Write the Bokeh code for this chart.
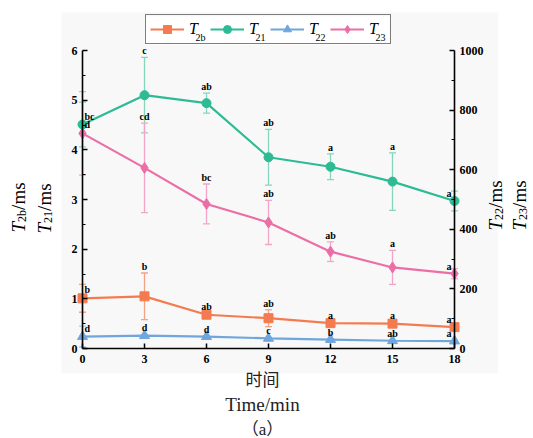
import math
from bokeh.plotting import figure
from bokeh.models import (Range1d, LinearAxis, FixedTicker, Whisker, TeeHead,
                          ColumnDataSource, Legend, LegendItem, Label, BoxAnnotation)
from bokeh.core.properties import value
from bokeh.embed import file_html
from bokeh.resources import INLINE

# ---- data -------------------------------------------------------------
time_min = [0, 3, 6, 9, 12, 15, 18]

t2b = [1.01, 1.05, 0.68, 0.61, 0.51, 0.50, 0.43]          # ms, left axis
t2b_err = [0.28, 0.47, 0.03, 0.17, 0.03, 0.03, 0.03]
t2b_sig = ["b", "b", "ab", "ab", "a", "a", "a"]

t21 = [4.51, 5.10, 4.94, 3.85, 3.66, 3.36, 2.97]          # ms, left axis
t21_err = [0.45, 0.76, 0.20, 0.56, 0.26, 0.58, 0.20]
t21_sig = ["bc", "c", "ab", "ab", "a", "a", "a"]

t22 = [40, 43, 40, 34, 30, 26, 25]                        # ms, right axis
t22_err = [35, 4, 3, 4, 3, 3, 2]
t22_sig = ["d", "d", "d", "c", "b", "ab", "a"]

t23 = [722, 606, 485, 423, 325, 272, 251]                 # ms, right axis
t23_err = [140, 150, 67, 74, 33, 57, 17]
t23_sig = ["d", "cd", "bc", "ab", "ab", "a", "a"]

left_ticks = [0, 1, 2, 3, 4, 5, 6]
right_ticks = [0, 200, 400, 600, 800, 1000]

# ---- geometry ---------------------------------------------------------
# The frame fills the whole canvas; the axes are pinned at fixed data
# positions so every text can live inside the frame.
W, H = 533, 438
X_MAX, L_MAX, R_MAX = 18, 6, 1000
X0_PX, X1_PX = 82, 454         # canvas columns of x = 0 and x = 18
Y0_PX, YT_PX = 348, 50         # canvas rows of the axis bottom and top
PANEL = "#f8f8f8"
SERIF = "Liberation Serif"

ppx = (X1_PX - X0_PX) / X_MAX
ppl = (Y0_PX - YT_PX) / L_MAX
ppr = (Y0_PX - YT_PX) / R_MAX


def sy(py):
    """canvas row -> screen y measured from the bottom"""
    return H - py


p = figure(width=W, height=H, output_backend="svg", toolbar_location=None,
           title=None, x_axis_location=None, y_axis_location=None,
           x_range=Range1d(-X0_PX / ppx, X_MAX + (W - X1_PX) / ppx),
           y_range=Range1d(-(H - Y0_PX) / ppl, L_MAX + YT_PX / ppl),
           min_border=0, min_border_left=0, min_border_right=0,
           min_border_top=0, min_border_bottom=0,
           background_fill_color="white", border_fill_color="white",
           outline_line_color=None)
p.extra_y_ranges = {"right": Range1d(-(H - Y0_PX) / ppr, R_MAX + YT_PX / ppr)}
p.grid.visible = False

# light panel behind the chart
p.add_layout(BoxAnnotation(left=61, right=497.7, top=sy(11.7), bottom=sy(372.7),
                           left_units="screen", right_units="screen",
                           top_units="screen", bottom_units="screen",
                           fill_color=PANEL, fill_alpha=1, line_color=None,
                           level="underlay"))


def style_axis(ax):
    ax.axis_line_color = "black"
    ax.axis_line_width = 1.6
    ax.major_tick_line_color = "black"
    ax.major_tick_line_width = 1.5
    ax.minor_tick_line_color = "black"
    ax.minor_tick_line_width = 1.2
    ax.major_tick_in = 5
    ax.major_tick_out = 0
    ax.minor_tick_in = 3
    ax.minor_tick_out = 0
    ax.major_label_text_font = SERIF
    ax.major_label_text_font_style = "bold"
    ax.major_label_text_font_size = "12px"
    ax.major_label_text_color = "black"
    ax.major_label_standoff = 5
    return ax


xa = style_axis(LinearAxis(fixed_location=0, bounds=(0, X_MAX),
                           ticker=FixedTicker(ticks=time_min, minor_ticks=[])))
xa.major_label_standoff = 6
p.add_layout(xa, "below")

ya = style_axis(LinearAxis(fixed_location=0, bounds=(0, L_MAX),
                           ticker=FixedTicker(ticks=left_ticks,
                                              minor_ticks=[t + 0.5 for t in left_ticks[:-1]])))
p.add_layout(ya, "left")

ra = style_axis(LinearAxis(fixed_location=X_MAX, y_range_name="right", bounds=(0, R_MAX),
                           ticker=FixedTicker(ticks=right_ticks,
                                              minor_ticks=[t + 100 for t in right_ticks[:-1]])))
p.add_layout(ra, "right")

# ---- legend box (white fill sits under the series) -----------------------
LEG_X, LEG_Y, LEG_PAD, GLYPH_W, STANDOFF, LABEL_W, SPACING = 145, 16, 4, 34, 5, 17, 4
LEG_H = 28
p.add_layout(BoxAnnotation(left=LEG_X, right=LEG_X + 244, top=sy(LEG_Y), bottom=sy(LEG_Y + LEG_H),
                           left_units="screen", right_units="screen",
                           top_units="screen", bottom_units="screen",
                           fill_color="white", fill_alpha=1, line_color=None,
                           level="underlay"))

series = [
    ("2b", t2b, t2b_err, t2b_sig, "#f47b50", "#f4a282", "square", 9, "default"),
    ("21", t21, t21_err, t21_sig, "#2cbb94", "#86d6be", "circle", 9, "default"),
    ("22", t22, t22_err, t22_sig, "#6ea6dd", "#a8c9ec", "triangle", 10, "right"),
    ("23", t23, t23_err, t23_sig, "#ec6ea6", "#f3a5c7", "diamond", 11, "right"),
]

legend_items = []
for sub, vals, errs, sig, col, ecol, marker, size, rng in series:
    src = ColumnDataSource(dict(
        x=time_min, y=vals,
        upper=[v + e for v, e in zip(vals, errs)],
        lower=[v - e for v, e in zip(vals, errs)],
    ))
    p.add_layout(Whisker(base="x", upper="upper", lower="lower", source=src,
                         line_color=ecol, line_width=1.3, y_range_name=rng,
                         level="underlay",
                         upper_head=TeeHead(size=7, line_color=ecol, line_width=1.3),
                         lower_head=TeeHead(size=7, line_color=ecol, line_width=1.3)))
    ln = p.line("x", "y", source=src, line_color=col, line_width=2.2, y_range_name=rng)
    pt = p.scatter("x", "y", source=src, marker=marker, size=size, fill_color=col,
                   line_color=col, y_range_name=rng)
    legend_items.append(LegendItem(label=value("T"), renderers=[ln, pt]))

    # significance letters
    txt = dict(text_font=value(SERIF), text_font_style="bold", text_font_size="10px",
               text_color="black", text_baseline="bottom", y_range_name=rng)
    p.text(x=[time_min[0]], y=[vals[0]], text=[sig[0]], text_align="left",
           x_offset=2, y_offset=-3, **txt)
    p.text(x=time_min[1:-1], y=[v + e for v, e in zip(vals[1:-1], errs[1:-1])],
           text=sig[1:-1], text_align="center", y_offset=-1, **txt)
    p.text(x=[time_min[-1]], y=[vals[-1]], text=[sig[-1]], text_align="right",
           x_offset=-3, y_offset=-2, **txt)

legend = Legend(items=legend_items, orientation="horizontal",
                location=(LEG_X, sy(LEG_Y + LEG_H)),
                border_line_color="black", border_line_width=1.2,
                background_fill_alpha=0,
                padding=LEG_PAD, spacing=SPACING, margin=0,
                glyph_width=GLYPH_W, glyph_height=20, label_standoff=STANDOFF,
                label_width=LABEL_W, label_height=20,
                label_text_font=SERIF, label_text_font_style="italic",
                label_text_font_size="16px", label_text_color="black")
p.add_layout(legend)

pitch = GLYPH_W + STANDOFF + LABEL_W + SPACING
for i, (sub, *_rest) in enumerate(series):
    x0 = LEG_X + LEG_PAD + i * pitch + GLYPH_W + STANDOFF + 7
    p.add_layout(Label(x=x0, y=sy(LEG_Y + 21), x_units="screen", y_units="screen",
                       text=sub, text_font=SERIF, text_font_size="10px",
                       text_color="black", text_baseline="alphabetic"))


# ---- rotated axis titles with subscripts -------------------------------
def vertical_title(base_x, start_y, sub):
    parts = [("T", "19px", "italic", 0, 10.6),
             (sub, "12px", "normal", 3, 12.0),
             ("/ms", "19px", "normal", 0, 27.5)]
    y = start_y
    for txt, fs, style, shift, adv in parts:
        p.add_layout(Label(x=base_x + shift, y=sy(y), x_units="screen", y_units="screen",
                           text=txt, angle=math.pi / 2,
                           text_font=SERIF, text_font_size=fs, text_font_style=style,
                           text_color="black", text_align="left",
                           text_baseline="alphabetic"))
        y -= adv


vertical_title(18, 232, "2b")
vertical_title(44, 233, "21")
vertical_title(495, 230, "22")
vertical_title(519, 230, "23")

# ---- bottom titles ----------------------------------------------------
for txt, font, fs, cy in [("时间", "Noto Sans CJK SC", "17px", 378),
                          ("Time/min", SERIF, "19px", 404),
                          ("（a）", "Liberation Serif, 'Noto Sans CJK SC'", "17px", 429)]:
    p.add_layout(Label(x=262, y=sy(cy), x_units="screen", y_units="screen",
                       text=txt, text_font=font, text_font_size=fs,
                       text_color="#222222", text_align="center",
                       text_baseline="middle"))

open("out.html", "w").write(file_html(p, INLINE))
